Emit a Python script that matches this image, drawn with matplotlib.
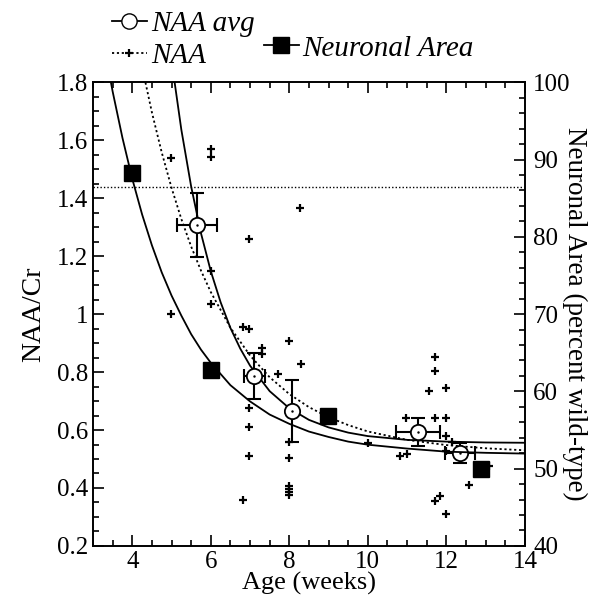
import numpy as np
import matplotlib
matplotlib.use("Agg")
import matplotlib.pyplot as plt
from matplotlib.lines import Line2D
from matplotlib.ticker import MultipleLocator

plt.rcParams['font.family'] = 'serif'
plt.rcParams['font.serif'] = ['Liberation Serif', 'DejaVu Serif']

# NAA individual measurements (NAA/Cr)
naa_age = [4.98, 4.98, 6.0, 6.0, 6.0, 6.0, 6.83, 6.98, 6.98, 8.28, 8.0, 7.3, 7.3, 8.3,
           7.72, 6.98, 6.98, 8.0, 6.98, 8.0, 8.0, 8.0, 8.0, 8.0, 6.83, 10.0, 10.83,
           10.99, 10.97, 11.7, 11.7, 11.57, 11.7, 12.0, 12.0, 12.0, 12.0, 13.09,
           12.58, 11.85, 11.7, 12.0, 12.15]
naa_val = [1.539, 1.002, 1.568, 1.543, 1.148, 1.034, 0.956, 0.947, 1.258, 1.367, 0.908,
           0.884, 0.862, 0.828, 0.795, 0.675, 0.612, 0.560, 0.510, 0.504, 0.407, 0.397,
           0.386, 0.376, 0.359, 0.556, 0.510, 0.517, 0.640, 0.853, 0.803, 0.733, 0.643,
           0.745, 0.643, 0.580, 0.526, 0.476, 0.410, 0.372, 0.356, 0.310, 0.560]

# NAA group averages with error bars
avg_age = [5.65, 7.11, 8.06, 11.28, 12.35]
avg_val = [1.307, 0.786, 0.666, 0.594, 0.521]
avg_xerr = [0.52, 0.27, 0.0, 0.55, 0.39]
avg_yerr = [0.11, 0.08, 0.107, 0.049, 0.035]

# neuronal area (percent wild-type, right axis)
area_age = [4.0, 6.0, 8.98, 12.87]
area_val = [88.2, 62.8, 56.85, 50.0]

# fitted curves
fit_avg_x = [5.0, 5.25, 5.5, 5.75, 6.0, 6.25, 6.5, 6.75, 7.0, 7.5, 8.0, 8.5, 9.0, 9.5,
             10.0, 11.0, 12.0, 13.0, 14.0]
fit_avg_y = [1.875, 1.636, 1.440, 1.279, 1.148, 1.041, 0.952, 0.881, 0.822, 0.734, 0.675,
             0.635, 0.609, 0.591, 0.579, 0.566, 0.560, 0.557, 0.556]

fit_naa_x = [4.0, 4.25, 4.5, 4.75, 5.0, 5.25, 5.5, 5.75, 6.0, 6.5, 7.0, 7.5, 8.0, 8.5,
             9.0, 9.5, 10.0, 11.0, 12.0, 13.0, 14.0]
fit_naa_y = [2.03, 1.853, 1.696, 1.558, 1.436, 1.328, 1.233, 1.150, 1.076, 0.953, 0.857,
             0.782, 0.724, 0.679, 0.644, 0.617, 0.595, 0.566, 0.548, 0.537, 0.530]

fit_area_x = [3.4, 3.5, 3.75, 4.0, 4.25, 4.5, 4.75, 5.0, 5.25, 5.5, 5.75, 6.0, 6.5, 7.0,
              7.5, 8.0, 8.5, 9.0, 9.5, 10.0, 11.0, 12.0, 13.0, 14.0]
fit_area_y = [101.5, 98.8, 92.8, 87.5, 82.9, 78.9, 75.4, 72.4, 69.8, 67.4, 65.4, 63.7,
              60.8, 58.7, 57.0, 55.8, 54.8, 54.1, 53.5, 53.1, 52.6, 52.2, 52.05, 51.95]

wild_type_level = 1.44

fig = plt.figure(figsize=(6.04, 5.96), dpi=100)
ax = fig.add_axes([0.154, 0.084, 0.715, 0.778])
ax2 = ax.twinx()

ax.axhline(wild_type_level, color='black', lw=1.0, ls=(0, (1, 1.5)))
ax.plot(fit_avg_x, fit_avg_y, color='black', lw=1.3)
ax.plot(fit_naa_x, fit_naa_y, color='black', lw=1.3, ls=(0, (1.2, 1.5)))
ax.plot(naa_age, naa_val, ls='none', marker='+', ms=6, mew=1.6, color='black')
ax.errorbar(avg_age, avg_val, xerr=avg_xerr, yerr=avg_yerr, fmt='none', ecolor='black',
            elinewidth=1.5, capsize=5, capthick=1.5, zorder=3)
ax.plot(avg_age, avg_val, ls='none', marker='o', ms=11, mfc='white', mec='black',
        mew=1.3, zorder=4)
ax.plot(avg_age, avg_val, ls='none', marker='.', ms=1.5, color='black', zorder=5)

ax2.plot(fit_area_x, fit_area_y, color='black', lw=1.3)
ax2.plot(area_age, area_val, ls='none', marker='s', ms=11, color='black')

ax.set_xlim(3, 14)
ax.set_ylim(0.2, 1.8)
ax2.set_ylim(40, 100)

ax.xaxis.set_major_locator(MultipleLocator(2))
ax.xaxis.set_minor_locator(MultipleLocator(0.5))
ax.yaxis.set_minor_locator(MultipleLocator(0.05))
ax2.yaxis.set_major_locator(MultipleLocator(10))
ax2.yaxis.set_minor_locator(MultipleLocator(2))
ax.set_yticks([0.2, 0.4, 0.6, 0.8, 1.0, 1.2, 1.4, 1.6, 1.8])
ax.set_yticklabels(['0.2', '0.4', '0.6', '0.8', '1', '1.2', '1.4', '1.6', '1.8'])

ax.tick_params(which='both', direction='in', top=True, right=False, labelsize=18, width=1.2)
ax.tick_params(which='major', length=8)
ax.tick_params(which='minor', length=4)
ax2.tick_params(which='both', direction='in', labelsize=18, width=1.2, pad=6)
ax2.tick_params(which='major', length=8)
ax2.tick_params(which='minor', length=4)
for a in (ax, ax2):
    for s in a.spines.values():
        s.set_linewidth(1.2)

ax.set_xlabel('Age (weeks)', fontsize=19, labelpad=-1)
ax.set_ylabel('NAA/Cr', fontsize=20, labelpad=8)
ax2.set_ylabel('Neuronal Area (percent wild-type)', fontsize=19.5, rotation=270, labelpad=12)

h_avg = Line2D([], [], color='black', lw=1.3, marker='o', ms=11, mfc='white', mec='black')
h_naa = Line2D([], [], color='black', lw=1.3, ls=(0, (1.2, 1.5)), marker='+', ms=6, mew=1.6)
h_area = Line2D([], [], color='black', lw=1.3, marker='s', ms=11)
leg_font = {'family': 'serif', 'style': 'italic', 'size': 21}
leg1 = fig.legend([h_avg, h_naa], ['NAA avg', 'NAA'], loc='upper left',
                  bbox_to_anchor=(0.185, 0.982), frameon=False, prop=leg_font,
                  handlelength=1.2, handletextpad=0.15, labelspacing=0.18,
                  borderpad=0, borderaxespad=0)
leg2 = fig.legend([h_area], ['Neuronal Area'], loc='upper left',
                  bbox_to_anchor=(0.437, 0.941), frameon=False, prop=leg_font,
                  handlelength=1.2, handletextpad=0.1, borderpad=0, borderaxespad=0)

fig.savefig('out.png', dpi=100)
